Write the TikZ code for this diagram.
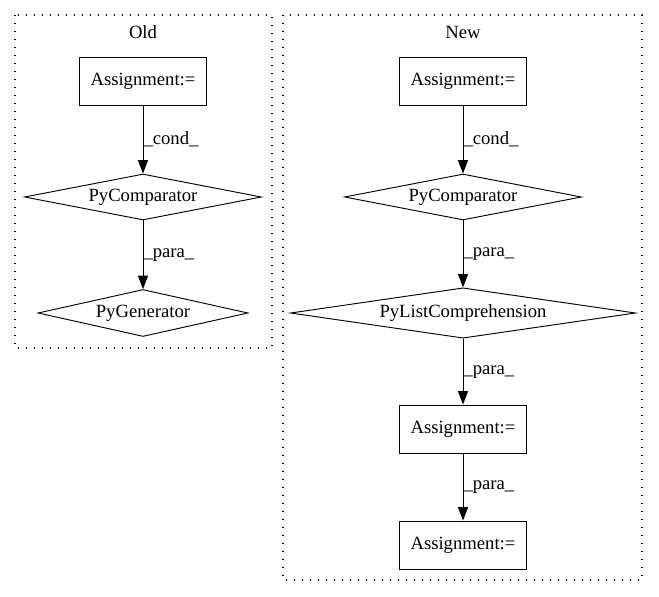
\documentclass[tikz,border=0pt]{standalone}
\usepackage{fontspec}
\setmainfont{Liberation Serif}
\usetikzlibrary{shapes.geometric, arrows.meta}

\tikzset{
	assign/.style={draw, rectangle, line width=0.7pt, minimum width=95.25pt, minimum height=36pt, inner sep=0pt},
	pyop/.style={draw, diamond, line width=0.7pt, shape aspect=5, inner sep=0pt},
	flow/.style={-{Triangle[length=10pt, width=7.5pt]}, line width=0.75pt},
	elabel/.style={anchor=west, inner sep=0pt, midway},
	cluster/.style={draw, line width=0.9pt, dash pattern=on 1pt off 5pt}
}

\begin{document}
\begin{tikzpicture}[x=0.75pt, y=-0.75pt, font=\fontsize{14}{16}\selectfont]
			\useasboundingbox (0, 0) rectangle (659, 596);
			
			% clusters
			\draw[cluster] (15, 15) rectangle (272, 348);
			\draw[cluster] (283, 15) rectangle (642, 580);
			\node (oldlabel) at (143, 32) {Old};
			\node (newlabel) at (463, 32) {New};
			
			% old
			\node[assign] (oAssign) at (143, 81) {Assignment:=};
			\node[pyop, minimum width=177.75pt, minimum height=34.5pt] (oComp) at (143, 197) {PyComparator};
			\node[pyop, minimum width=157.5pt, minimum height=35.25pt] (oGen) at (143, 313) {PyGenerator};
			
			\draw[flow] (oAssign) -- (oComp) node[elabel] {\_cond\_};
			\draw[flow] (oComp) -- (oGen) node[elabel] {\_para\_};
			
			% new
			\node[assign] (nAssign) at (463, 81) {Assignment:=};
			\node[pyop, minimum width=177.75pt, minimum height=34.5pt] (nComp) at (463, 197) {PyComparator};
			\node[pyop, minimum width=258.75pt, minimum height=36pt] (nList) at (463, 313) {PyListComprehension};
			\node[assign] (nAssignB) at (463, 429) {Assignment:=};
			\node[assign] (nAssignC) at (463, 545) {Assignment:=};
			
			\draw[flow] (nAssign) -- (nComp) node[elabel] {\_cond\_};
			\draw[flow] (nComp) -- (nList) node[elabel] {\_para\_};
			\draw[flow] (nList) -- (nAssignB) node[elabel] {\_para\_};
			\draw[flow] (nAssignB) -- (nAssignC) node[elabel] {\_para\_};
			
		\end{tikzpicture}
\end{document}
